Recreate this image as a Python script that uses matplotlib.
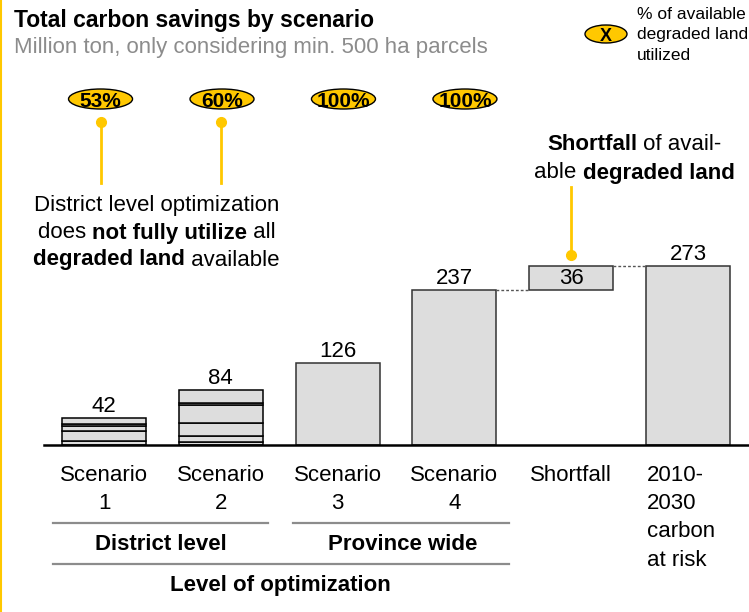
import matplotlib
matplotlib.use("Agg")
import matplotlib.pyplot as plt
from matplotlib.patches import Ellipse
from matplotlib.transforms import blended_transform_factory

plt.rcParams["font.family"] = ["Liberation Sans", "DejaVu Sans"]

# data
categories = ["Scenario\n1", "Scenario\n2", "Scenario\n3", "Scenario\n4",
              "Shortfall", "2010-\n2030\ncarbon\nat risk"]
values = [42, 84, 126, 237, 36, 273]
scenario_1_parts = [6, 15, 8, 3, 10]
scenario_2_parts = [5, 8, 21, 27, 3, 20]
utilization = ["53%", "60%", "100%", "100%"]
groups = [("District level", -0.44, 1.40), ("Province wide", 1.62, 3.47)]
group_title = "Level of optimization"

GOLD = "#FFC800"
FILL = "#DDDDDD"
GREY = "#8C8C8C"
W, H = 749, 612

fig = plt.figure(figsize=(W / 100, H / 100), dpi=100)
ax = fig.add_axes([44 / W, (H - 445) / H, (W - 44) / W, 300 * 0.654 / H])
ax.set_xlim(-0.514, 5.522)
ax.set_ylim(0, 300)
ax.axis("off")

# overlay in pixel coordinates (y down)
ov = fig.add_axes([0, 0, 1, 1])
ov.set_xlim(0, W)
ov.set_ylim(H, 0)
ov.axis("off")
tx = blended_transform_factory(ax.transData, ov.transData)

bw = 0.72
bottoms = [0, 0, 0, 0, values[3], 0]

# stacked scenario bars
for i, parts in [(0, scenario_1_parts), (1, scenario_2_parts)]:
    b = 0
    for p in parts:
        ax.bar(i, p, bottom=b, width=bw, color=FILL, edgecolor="black", lw=1.1)
        b += p
for i in range(2, 6):
    ax.bar(i, values[i], bottom=bottoms[i], width=bw, color=FILL,
           edgecolor="#333333", lw=1.1)

ax.axhline(0, color="black", lw=1.8, zorder=5, clip_on=False)

# connectors
ax.plot([3 + bw / 2, 4 - bw / 2], [values[3], values[3]], color="#555555",
        lw=1, ls=(0, (2, 1.5)))
ax.plot([4 + bw / 2, 5 - bw / 2], [values[3] + values[4]] * 2, color="#555555",
        lw=1, ls=(0, (2, 1.5)))

# value labels
for i, v in enumerate(values):
    top = bottoms[i] + v
    if i == 4:
        ax.text(i, bottoms[i] + v / 2, str(v), ha="center", va="center", fontsize=16)
    else:
        ax.annotate(str(v), (i, top), xytext=(0, 6), textcoords="offset pixels",
                    ha="center", va="baseline", fontsize=16)

# category labels
for i, lab in enumerate(categories):
    if i == 5:
        ov.text(i - 0.355, 465, lab, transform=tx, ha="left", va="top",
                fontsize=16, linespacing=1.45)
    else:
        ov.text(i, 465, lab, transform=tx, ha="center", va="top",
                fontsize=16, linespacing=1.45, multialignment="center")

# group brackets
for name, x0, x1 in groups:
    ov.plot([x0, x1], [523, 523], transform=tx, color=GREY, lw=1.6)
    ov.text((x0 + x1) / 2 + 0.01, 544, name, transform=tx, ha="center",
            va="center", fontsize=16, fontweight="bold")
ov.plot([groups[0][1], groups[1][2]], [564, 564], transform=tx, color=GREY, lw=1.6)
ov.text(1.51, 585, group_title, transform=tx, ha="center", va="center",
        fontsize=16, fontweight="bold")

# utilization badges
for i, pct in enumerate(utilization):
    cx = ax.transData.transform((i - 0.03 + 0.04 * i, 0))[0]
    ov.add_patch(Ellipse((cx, 99), 64, 20, fc=GOLD, ec="black", lw=1))
    ov.text(cx, 99.5, pct, ha="center", va="center_baseline", fontsize=15,
            fontweight="bold")

# pointers
for i in (0, 1):
    xi = i - 0.03 * (1 - i)
    ov.plot([xi, xi], [122, 183], transform=tx, color=GOLD, lw=2)
    ov.plot([xi], [122], "o", ms=7, color=GOLD, transform=tx)
ov.plot([4, 4], [187, 255], transform=tx, color=GOLD, lw=2)
ov.plot([4], [255], "o", ms=7, color=GOLD, transform=tx)

fig.canvas.draw()
renderer = fig.canvas.get_renderer()


def rich_line(xc, y, parts):
    arts = []
    for s, bold in parts:
        arts.append(ov.text(0, y, s, fontsize=16, va="center",
                            fontweight="bold" if bold else "normal"))
    widths = [a.get_window_extent(renderer).width for a in arts]
    x0 = ax.transData.transform((xc, 0))[0] - sum(widths) / 2
    for a, w in zip(arts, widths):
        a.set_x(x0)
        x0 += w


left_note = [
    [("District level optimization", False)],
    [("does ", False), ("not fully utilize", True), (" all", False)],
    [("degraded land", True), (" available", False)],
]
for line, y in zip(left_note, [205, 233, 260]):
    rich_line(0.45, y, line)

right_note = [
    [("Shortfall", True), (" of avail-", False)],
    [("able ", False), ("degraded land", True)],
]
for line, y in zip(right_note, [145, 173]):
    rich_line(4.54, y, line)

# title
ov.text(14, 27, "Total carbon savings by scenario", fontsize=16.5,
        fontweight="bold", va="baseline")
ov.text(14, 53, "Million ton, only considering min. 500 ha parcels",
        fontsize=16, color=GREY, va="baseline")

# legend
ov.add_patch(Ellipse((606, 34), 42, 18, fc=GOLD, ec="black", lw=1))
ov.text(606, 34.5, "X", ha="center", va="center_baseline", fontsize=13,
        fontweight="bold")
ov.text(637, 7, "% of available\ndegraded land\nutilized", fontsize=12.5,
        va="top", linespacing=1.45)

# left accent line
ov.plot([1, 1], [0, H], color=GOLD, lw=1.5)

fig.savefig("out.png", dpi=100)
